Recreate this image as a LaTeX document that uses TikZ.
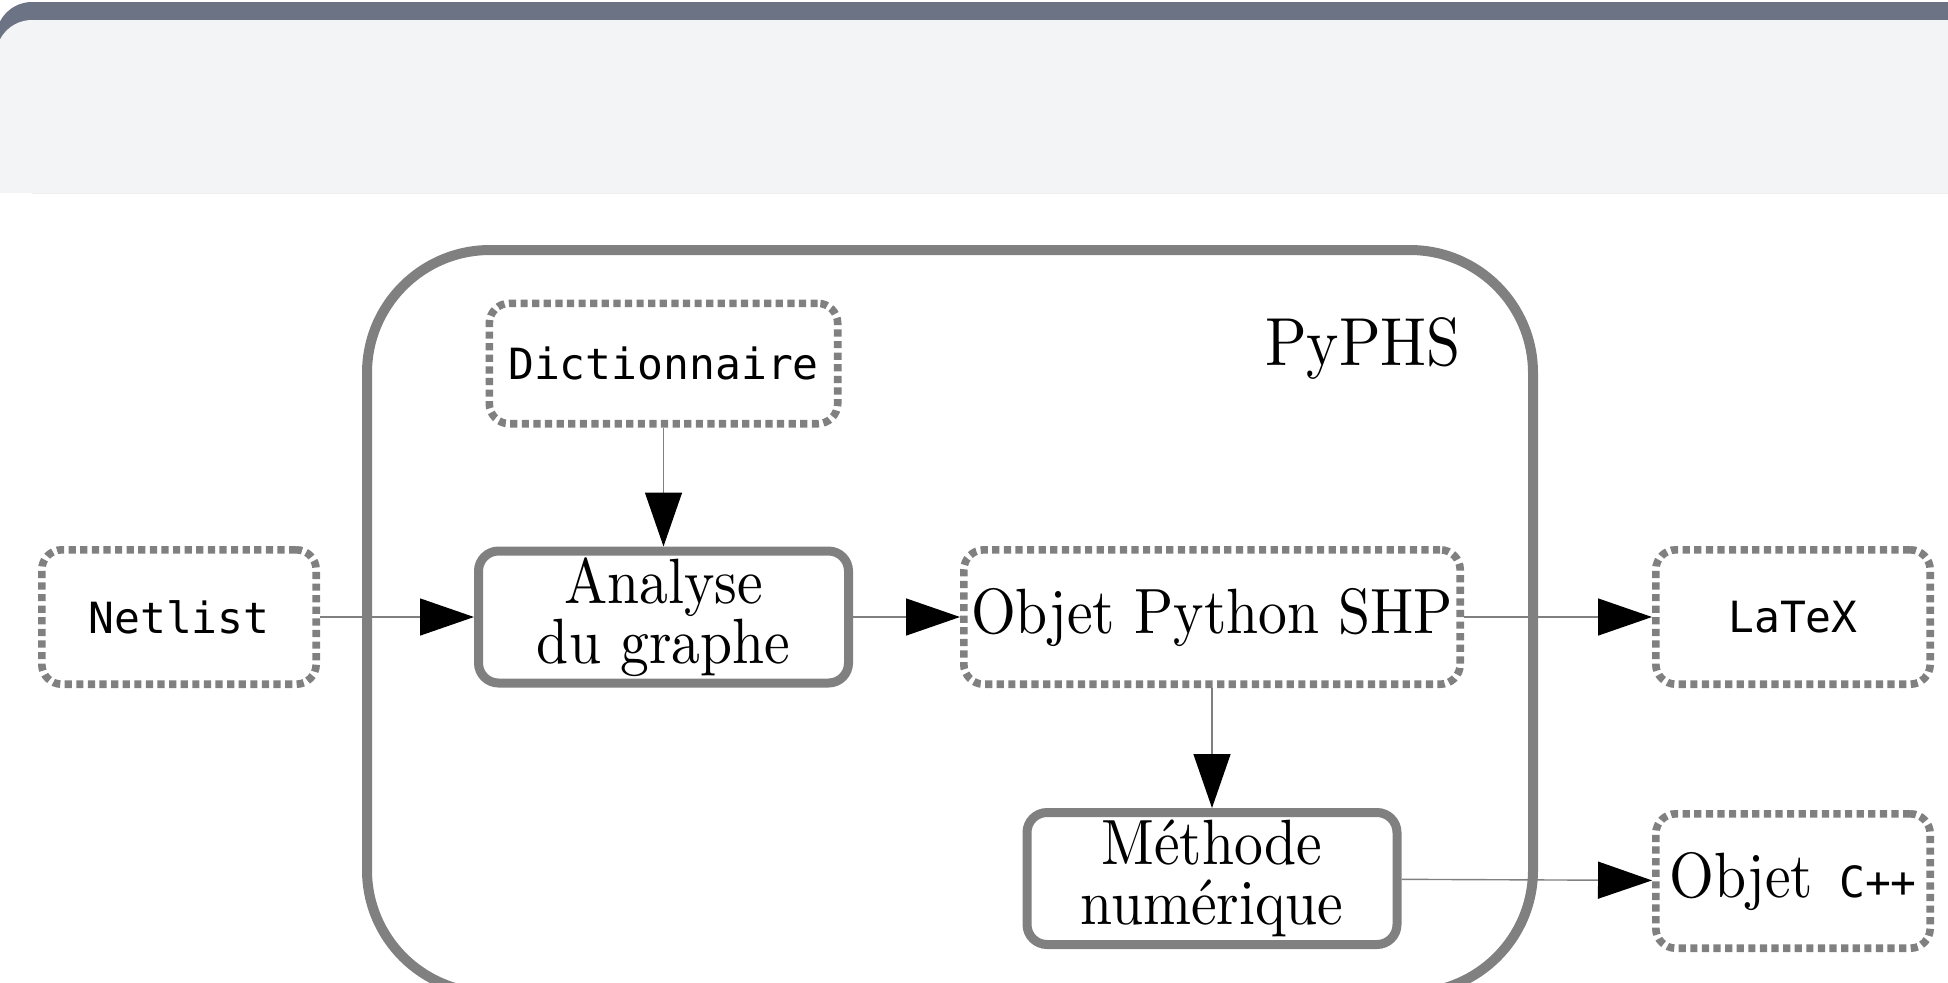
\documentclass[tikz,border=0pt]{standalone}
\usepackage{fontspec}
\newfontfamily\serifface{lmroman10-regular.otf}[FakeStretch=0.9]
\newfontfamily\monoface{DejaVu Sans Mono}
\usepackage{tikz}
\usetikzlibrary{arrows.meta,positioning}
\definecolor{BarGray}{RGB}{107,115,133}
\definecolor{PanelGray}{RGB}{243,244,246}
\definecolor{EdgeGray}{RGB}{128,128,128}
\newcommand{\boxfont}{\serifface\fontsize{32}{30}\selectfont}
\newcommand{\codefont}{\monoface\fontsize{21.5}{24}\selectfont}

\begin{document}
\begin{tikzpicture}[x=0.5pt,y=-0.5pt,
  datafile/.style={rectangle,rounded corners=10pt,draw=EdgeGray,line width=3.8pt,
                   dash pattern=on 3.6pt off 2.2pt,inner sep=0pt,
                   minimum width=137.2pt,minimum height=67.2pt,font=\codefont},
  proc/.style={rectangle,rounded corners=10pt,draw=EdgeGray,line width=4.5pt,
               inner sep=0pt,minimum width=185pt,minimum height=66pt,
               font=\boxfont,align=center},
  arr/.style={-{Triangle[length=27pt,width=18.5pt,color=black]},line width=0.7pt,EdgeGray}
]
  \useasboundingbox (0,0) rectangle (1948,982);
  % top panel
  \fill[BarGray,rounded corners=18pt] (-4,2) rectangle (2150,193);
  \fill[PanelGray] (2150,193) -- (-4,193) [rounded corners=18pt] -- (-4,20) [sharp corners] -- (2150,20) -- cycle;
  % PyPHS frame
  \draw[EdgeGray,line width=5pt,rounded corners=61.5pt] (367,250) rectangle (1533,993);
  \node[font=\serifface\fontsize{34}{40}\selectfont,anchor=base] (pyphs) at (1363,365) {PyPHS};

  \node[datafile] (netlist) at (179,617) {Netlist};
  \node[proc,right=77pt of netlist] (analyse) {Analyse\\du graphe};
  \node[datafile,above=59.5pt of analyse,minimum width=174.2pt,minimum height=60.2pt] (dico) {Dictionnaire};
  \node[datafile,right=53.5pt of analyse,minimum width=248.2pt,font=\boxfont] (shp) {Objet Python SHP};
  \node[datafile,right=94pt of shp] (latex) {LaTeX};
  \node[proc,below=60pt of shp] (methode) {Méthode\\numérique};
  \node[datafile,below=61pt of latex] (cpp) {{\boxfont Objet} C++};

  \draw[arr] (netlist) -- (analyse);
  \draw[arr] (dico) -- (analyse);
  \draw[arr] (analyse) -- (shp);
  \draw[arr] (shp) -- (latex);
  \draw[arr] (shp) -- (methode);
  \draw[arr] (methode) -- (cpp);
\end{tikzpicture}
\end{document}
